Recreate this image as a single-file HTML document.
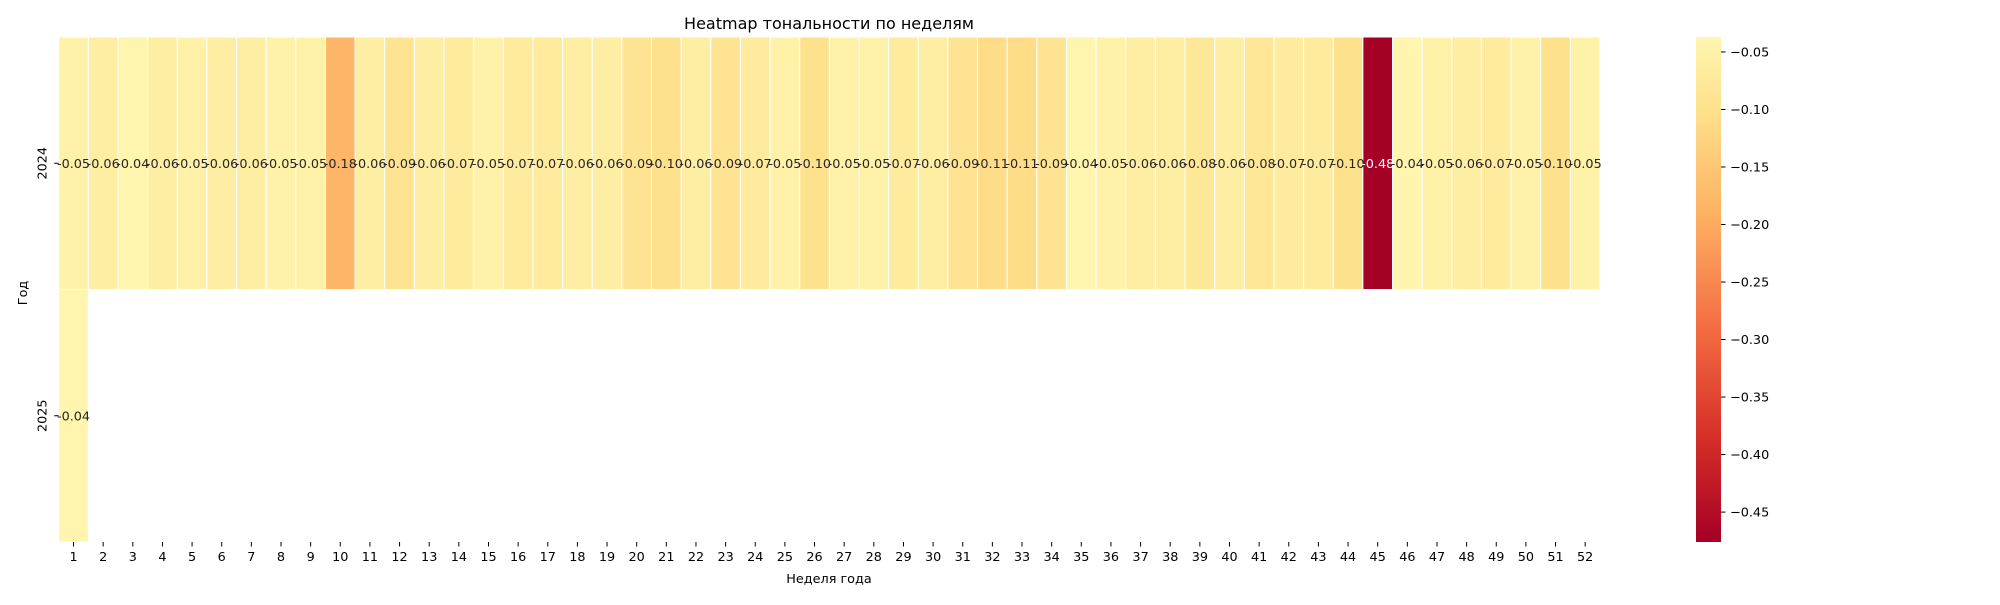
<!DOCTYPE html>
<html><head><meta charset="utf-8"><style>
body{margin:0;background:#fff;}
svg text{font-family:"DejaVu Sans","Liberation Sans",sans-serif;}
</style></head><body>
<svg id="chart" width="2000" height="600" xmlns="http://www.w3.org/2000/svg">
<defs><linearGradient id="cbgrad" x1="0" y1="1" x2="0" y2="0"></linearGradient></defs>
<text x="829" y="29" font-size="16" text-anchor="middle" fill="#000">Heatmap тональности по неделям</text>
<g id="cells"></g>
<g id="xticks"></g>
<g id="yticks"></g>
<text x="829" y="583" font-size="12.8" text-anchor="middle">Неделя года</text>
<text transform="translate(27,293) rotate(-90)" font-size="12.8" text-anchor="middle">Год</text>
<rect x="1696" y="37" width="25" height="505" fill="url(#cbgrad)"/>
<g id="cbticks"></g>
</svg>
<script>
const years = ["2024","2025"];
const weeks = Array.from({length:52},(_, i)=>String(i+1));
const values2024 = [-0.05,-0.06,-0.04,-0.06,-0.05,-0.06,-0.06,-0.05,-0.05,-0.18,-0.06,-0.09,-0.06,-0.07,-0.05,-0.07,-0.07,-0.06,-0.06,-0.09,-0.10,-0.06,-0.09,-0.07,-0.05,-0.10,-0.05,-0.05,-0.07,-0.06,-0.09,-0.11,-0.11,-0.09,-0.04,-0.05,-0.06,-0.06,-0.08,-0.06,-0.08,-0.07,-0.07,-0.10,-0.48,-0.04,-0.05,-0.06,-0.07,-0.05,-0.10,-0.05];
const values2025 = [-0.04];
const colorbarTicks = [-0.05,-0.10,-0.15,-0.20,-0.25,-0.30,-0.35,-0.40,-0.45];
const vmin = -0.476, vmax = -0.037;

const NS="http://www.w3.org/2000/svg";
const L=58.7,R=1600,T=37,B=542;
const cw=(R-L)/weeks.length, rh=(B-T)/years.length;
const xPos=i=>L+i*cw, yPos=j=>T+j*rh;
const stops=[[0,[165,0,38]],[0.1,[215,48,39]],[0.2,[244,109,67]],[0.3,[253,174,97]],[0.4,[254,224,139]],[0.5,[255,255,191]]];
function cmap(v){
  let f=Math.max(0,Math.min(1,(v-vmin)/(vmax-vmin)))*0.47;
  for(let k=0;k<stops.length-1;k++){
    const [a,ca]=stops[k],[b,cb]=stops[k+1];
    if(f<=b){const t=(f-a)/(b-a);return "rgb("+ca.map((c,i)=>Math.round(c+(cb[i]-c)*t)).join(",")+")";}
  }
  return "rgb(255,255,191)";
}
function mk(tag,attrs,parent,text){const e=document.createElementNS(NS,tag);for(const k in attrs)e.setAttribute(k,attrs[k]);if(text!==undefined)e.textContent=text;parent.appendChild(e);return e;}
const cells=document.getElementById('cells');
[values2024,values2025].forEach((row,j)=>{
  row.forEach((v,i)=>{
    const r=mk('rect',{x:xPos(i),y:yPos(j),width:cw,height:rh,fill:cmap(v),stroke:'#fff','stroke-width':1},cells);
    
    
  });
});
[values2024,values2025].forEach((row,j)=>{
  row.forEach((v,i)=>{
    const frac=(v-vmin)/(vmax-vmin);
    const t=mk('text',{x:xPos(i)+cw/2,y:yPos(j)+rh/2+4.5,'font-size':12.8,'text-anchor':'middle',fill:frac<0.3?'#fff':'#262626'},cells,v.toFixed(2));
    
    
  });
});
const xt=document.getElementById('xticks');
weeks.forEach((w,i)=>{
  const cx=xPos(i)+cw/2;
  mk('line',{x1:cx,x2:cx,y1:B,y2:B+4.5,stroke:'#000','stroke-width':1},xt);
  const t=mk('text',{x:cx,y:B+19,'font-size':12.8,'text-anchor':'middle'},xt,w);
  
  
});
const yt=document.getElementById('yticks');
years.forEach((y,j)=>{
  const cy=yPos(j)+rh/2;
  mk('line',{x1:L-4.5,x2:L,y1:cy,y2:cy,stroke:'#000','stroke-width':1},yt);
  const t=mk('text',{transform:`translate(${L-12},${cy}) rotate(-90)`,'font-size':12.8,'text-anchor':'middle'},yt,y);
  
  
});
const g=document.getElementById('cbgrad');
for(let k=0;k<=20;k++){const v=vmin+(vmax-vmin)*k/20;mk('stop',{offset:(k*5)+'%','stop-color':cmap(v)},g);}
const cb=document.getElementById('cbticks');
const cbY=v=>B-(v-vmin)/(vmax-vmin)*(B-T);
colorbarTicks.forEach(v=>{
  const y=cbY(v);
  mk('line',{x1:1721,x2:1725.5,y1:y,y2:y,stroke:'#000','stroke-width':1},cb);
  const t=mk('text',{x:1730,y:y+4.5,'font-size':12.8},cb,'\u2212'+Math.abs(v).toFixed(2));
  
  
});
</script>
</body></html>
